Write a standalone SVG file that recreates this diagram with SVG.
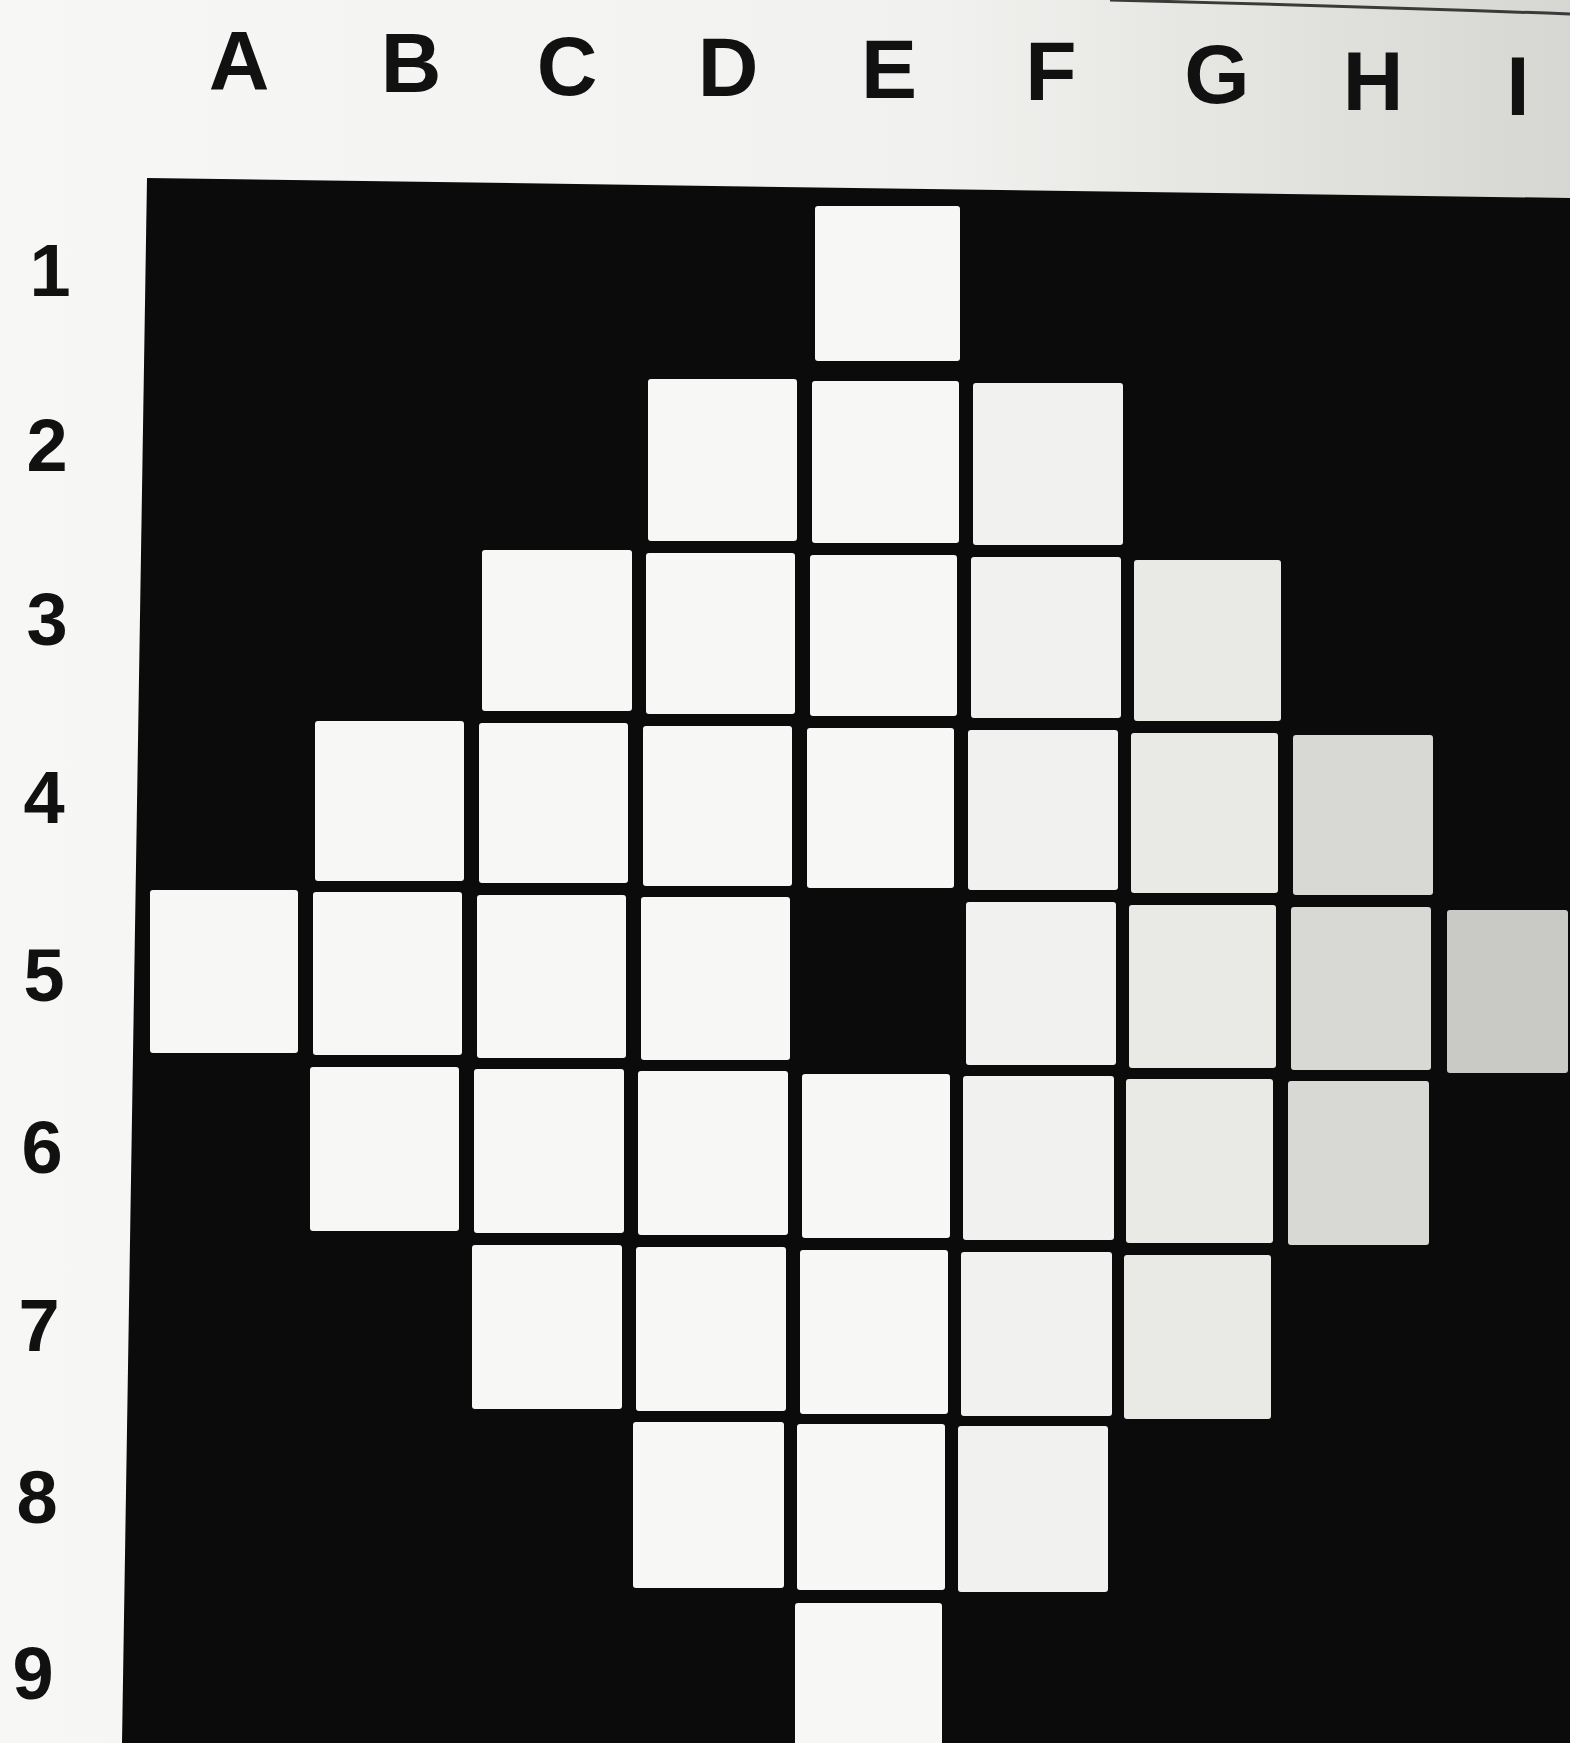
<svg xmlns="http://www.w3.org/2000/svg" width="1570" height="1743" viewBox="0 0 1570 1743">
<defs>
<linearGradient id="paper" x1="0" y1="0" x2="1" y2="0">
<stop offset="0" stop-color="#f7f7f5"/>
<stop offset="0.6" stop-color="#f1f1ef"/>
<stop offset="1" stop-color="#d6d6d2"/>
</linearGradient>
<style>
.lbl{font-family:"Liberation Sans","DejaVu Sans",sans-serif;font-weight:bold;fill:#111;text-anchor:middle}
.col{font-size:84px}
.row{font-size:74px}
.c{fill:#f7f7f5}
.cf{fill:#f1f1ef}
.cg{fill:#e9e9e6}
.ch{fill:#d8d8d5}
.ci{fill:#c9c9c6}
</style>
</defs>
<rect x="0" y="0" width="1570" height="1743" fill="url(#paper)"/>
<path d="M1110 0 Q1350 6 1570 14" fill="none" stroke="#3a3a3a" stroke-width="3"/>
<polygon id="board" points="147,178 1570,198 1570,1743 122,1743" fill="#0b0b0b"/>

<g id="col-labels">
<g id="lbl-A"><text class="lbl col" x="239" y="90">A</text></g>
<g id="lbl-B"><text class="lbl col" x="411" y="92">B</text></g>
<g id="lbl-C"><text class="lbl col" x="567" y="95">C</text></g>
<g id="lbl-D"><text class="lbl col" x="728" y="96">D</text></g>
<g id="lbl-E"><text class="lbl col" x="889" y="98">E</text></g>
<g id="lbl-F"><text class="lbl col" x="1051" y="100">F</text></g>
<g id="lbl-G"><text class="lbl col" x="1217" y="103">G</text></g>
<g id="lbl-H"><text class="lbl col" x="1373" y="110">H</text></g>
<g id="lbl-I"><text class="lbl col" x="1518" y="115">I</text></g>
</g>

<g id="row-labels">
<g id="lbl-1"><text class="lbl row" x="50" y="296">1</text></g>
<g id="lbl-2"><text class="lbl row" x="47" y="471">2</text></g>
<g id="lbl-3"><text class="lbl row" x="47" y="645">3</text></g>
<g id="lbl-4"><text class="lbl row" x="44" y="823">4</text></g>
<g id="lbl-5"><text class="lbl row" x="44" y="1001">5</text></g>
<g id="lbl-6"><text class="lbl row" x="42" y="1173">6</text></g>
<g id="lbl-7"><text class="lbl row" x="39" y="1351">7</text></g>
<g id="lbl-8"><text class="lbl row" x="37" y="1523">8</text></g>
<g id="lbl-9"><text class="lbl row" x="33" y="1699">9</text></g>
</g>

<g id="cells">
<g id="cell-E1"><rect class="c" x="815" y="206" width="145" height="155" rx="3"/></g>

<g id="cell-D2"><rect class="c" x="648" y="379" width="149" height="162" rx="3"/></g>
<g id="cell-E2"><rect class="c" x="812" y="381" width="147" height="162" rx="3"/></g>
<g id="cell-F2"><rect class="cf" x="973" y="383" width="150" height="162" rx="3"/></g>

<g id="cell-C3"><rect class="c" x="482" y="550" width="150" height="161" rx="3"/></g>
<g id="cell-D3"><rect class="c" x="646" y="553" width="149" height="161" rx="3"/></g>
<g id="cell-E3"><rect class="c" x="810" y="555" width="147" height="161" rx="3"/></g>
<g id="cell-F3"><rect class="cf" x="971" y="557" width="150" height="161" rx="3"/></g>
<g id="cell-G3"><rect class="cg" x="1134" y="560" width="147" height="161" rx="3"/></g>

<g id="cell-B4"><rect class="c" x="315" y="721" width="149" height="160" rx="3"/></g>
<g id="cell-C4"><rect class="c" x="479" y="723" width="149" height="160" rx="3"/></g>
<g id="cell-D4"><rect class="c" x="643" y="726" width="149" height="160" rx="3"/></g>
<g id="cell-E4"><rect class="c" x="807" y="728" width="147" height="160" rx="3"/></g>
<g id="cell-F4"><rect class="cf" x="968" y="730" width="150" height="160" rx="3"/></g>
<g id="cell-G4"><rect class="cg" x="1131" y="733" width="147" height="160" rx="3"/></g>
<g id="cell-H4"><rect class="ch" x="1293" y="735" width="140" height="160" rx="3"/></g>

<g id="cell-A5"><rect class="c" x="150" y="890" width="148" height="163" rx="3"/></g>
<g id="cell-B5"><rect class="c" x="313" y="892" width="149" height="163" rx="3"/></g>
<g id="cell-C5"><rect class="c" x="477" y="895" width="149" height="163" rx="3"/></g>
<g id="cell-D5"><rect class="c" x="641" y="897" width="149" height="163" rx="3"/></g>
<g id="cell-F5"><rect class="cf" x="966" y="902" width="150" height="163" rx="3"/></g>
<g id="cell-G5"><rect class="cg" x="1129" y="905" width="147" height="163" rx="3"/></g>
<g id="cell-H5"><rect class="ch" x="1291" y="907" width="140" height="163" rx="3"/></g>
<g id="cell-I5"><rect class="ci" x="1447" y="910" width="121" height="163" rx="3"/></g>

<g id="cell-B6"><rect class="c" x="310" y="1067" width="149" height="164" rx="3"/></g>
<g id="cell-C6"><rect class="c" x="474" y="1069" width="150" height="164" rx="3"/></g>
<g id="cell-D6"><rect class="c" x="638" y="1071" width="150" height="164" rx="3"/></g>
<g id="cell-E6"><rect class="c" x="802" y="1074" width="148" height="164" rx="3"/></g>
<g id="cell-F6"><rect class="cf" x="963" y="1076" width="151" height="164" rx="3"/></g>
<g id="cell-G6"><rect class="cg" x="1126" y="1079" width="147" height="164" rx="3"/></g>
<g id="cell-H6"><rect class="ch" x="1288" y="1081" width="141" height="164" rx="3"/></g>

<g id="cell-C7"><rect class="c" x="472" y="1245" width="150" height="164" rx="3"/></g>
<g id="cell-D7"><rect class="c" x="636" y="1247" width="150" height="164" rx="3"/></g>
<g id="cell-E7"><rect class="c" x="800" y="1250" width="148" height="164" rx="3"/></g>
<g id="cell-F7"><rect class="cf" x="961" y="1252" width="151" height="164" rx="3"/></g>
<g id="cell-G7"><rect class="cg" x="1124" y="1255" width="147" height="164" rx="3"/></g>

<g id="cell-D8"><rect class="c" x="633" y="1422" width="151" height="166" rx="3"/></g>
<g id="cell-E8"><rect class="c" x="797" y="1424" width="148" height="166" rx="3"/></g>
<g id="cell-F8"><rect class="cf" x="958" y="1426" width="150" height="166" rx="3"/></g>

<g id="cell-E9"><rect class="c" x="795" y="1603" width="147" height="150" rx="3"/></g>
</g>
</svg>
